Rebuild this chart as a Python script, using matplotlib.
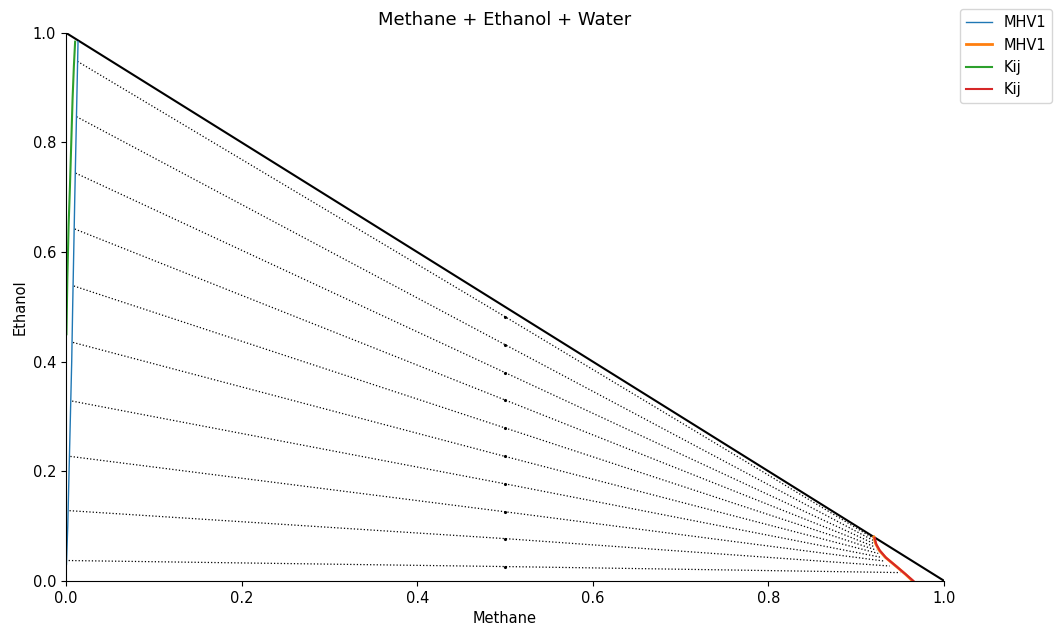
import numpy as np
import matplotlib
matplotlib.use("Agg")
import matplotlib.pyplot as plt

plt.rcParams['font.size'] = 10.5

# water-rich phase (left branch)
mhv1_left_x = [0.0005, 0.002, 0.0035, 0.005, 0.0065, 0.0076, 0.0088, 0.0100, 0.0113, 0.0126, 0.0137]
mhv1_left_y = [0.03, 0.10, 0.20, 0.30, 0.40, 0.50, 0.60, 0.70, 0.80, 0.90, 0.984]
kij_left_x = [0.0005, 0.0015, 0.003, 0.0045, 0.006, 0.0075, 0.009, 0.0104]
kij_left_y = [0.45, 0.55, 0.65, 0.72, 0.80, 0.88, 0.94, 0.984]

# methane-rich phase (right branch)
mhv1_right_x = [0.920, 0.922, 0.926, 0.933, 0.945, 0.956, 0.964]
mhv1_right_y = [0.080, 0.068, 0.056, 0.043, 0.027, 0.012, 0.0]
kij_right_x = [0.921, 0.923, 0.927, 0.934, 0.946, 0.957, 0.965]
kij_right_y = [0.078, 0.066, 0.055, 0.042, 0.026, 0.011, 0.0]

# tie lines: left end, feed, right end
tie_left_x = [0.013, 0.012, 0.011, 0.010, 0.009, 0.008, 0.007, 0.005, 0.004, 0.003]
tie_left_y = [0.948, 0.847, 0.744, 0.642, 0.538, 0.435, 0.328, 0.227, 0.128, 0.037]
feed_x = [0.5] * 10
feed_y = [0.482, 0.431, 0.380, 0.330, 0.279, 0.227, 0.177, 0.126, 0.077, 0.026]
tie_right_x = [0.918, 0.919, 0.920, 0.921, 0.923, 0.925, 0.928, 0.932, 0.938, 0.950]
tie_right_y = [0.079, 0.074, 0.068, 0.062, 0.056, 0.050, 0.043, 0.036, 0.027, 0.015]

fig = plt.figure(figsize=(10.56, 6.32), dpi=100)
ax = fig.add_axes([0.0625, 0.081, 0.8315, 0.867])

for i in range(len(tie_left_x)):
    ax.plot([tie_left_x[i], feed_x[i], tie_right_x[i]],
            [tie_left_y[i], feed_y[i], tie_right_y[i]], 'k:', lw=0.9)
    ax.plot(feed_x[i], feed_y[i], 'k.', ms=2.5)

ax.plot([0, 1], [1, 0], 'k', lw=1.5)

ax.plot(mhv1_left_x, mhv1_left_y, color='C0', lw=1, label='MHV1')
ax.plot(mhv1_right_x, mhv1_right_y, color='C1', lw=2, label='MHV1')
ax.plot(kij_left_x, kij_left_y, color='C2', lw=1.5, label='Kij')
ax.plot(kij_right_x, kij_right_y, color='C3', lw=1.5, label='Kij')

ax.set_xlim(0, 1)
ax.set_ylim(0, 1)
ax.spines['top'].set_visible(False)
ax.spines['right'].set_visible(False)
ax.set_title('Methane + Ethanol + Water', fontsize=13)
ax.set_xlabel('Methane')
ax.set_ylabel('Ethanol')
ax.legend(loc='upper left', bbox_to_anchor=(1.01, 1.056), handlelength=1.8)

fig.savefig('out.png')
